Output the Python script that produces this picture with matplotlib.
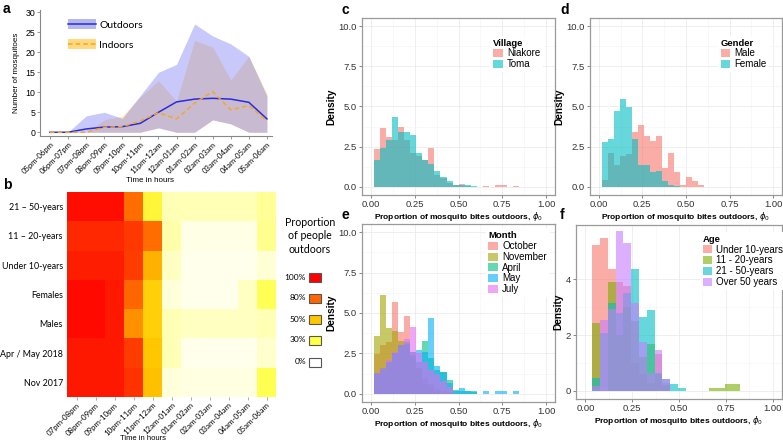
import matplotlib
matplotlib.use("Agg")
import matplotlib.pyplot as plt
import numpy as np
from matplotlib.colors import LinearSegmentedColormap
from matplotlib.patches import Patch, Rectangle
from matplotlib.lines import Line2D

W, H = 783, 443

# ---------------- Panel a data ----------------
hours_a = ["05pm-06pm", "06pm-07pm", "07pm-08pm", "08pm-09pm", "09pm-10pm",
           "10pm-11pm", "11pm-12am", "12am-01am", "01am-02am", "02am-03am",
           "03am-04am", "04am-05am", "05am-06am"]
out_mean = [0, 0, 0.83, 1.3, 1.4, 2.25, 5.0, 7.6, 8.3, 8.5, 8.3, 7.5, 3.35]
out_low = [0, 0, 0, 0, 0, 0, 1.1, 0, 0, 3.1, 2.1, 0, 0]
out_high = [0, 0, 4.1, 5.0, 3.5, 9.2, 15.0, 17.0, 27.1, 24.1, 22.1, 19.0, 9.1]
in_mean = [0, 0, 0, 1.25, 1.4, 2.85, 4.9, 3.35, 7.3, 10.2, 5.6, 6.7, 2.85]
in_low = [0, 0, 0, 0, 0, 0, 1.1, 0, 0, 3.1, 2.1, 0, 0]
in_high = [0, 0, 0, 3.1, 4.1, 8.9, 12.9, 7.8, 23.0, 21.3, 13.1, 19.0, 9.6]

# ---------------- Panel b data ----------------
groups_b = ["21 \u2013 50-years", "11 \u2013 20-years", "Under 10-years", "Females",
            "Males", "Apr / May 2018", "Nov 2017"]
hours_b = ["07pm-08pm", "08pm-09pm", "09pm-10pm", "10pm-11pm", "11pm-12am",
           "12am-01am", "01am-02am", "02am-03am", "03am-04am", "04am-05am", "05am-06am"]
prop_21_50 = [0.97, 0.97, 0.97, 0.78, 0.33, 0.12, 0.12, 0.12, 0.12, 0.12, 0.17]
prop_11_20 = [0.92, 0.92, 0.92, 0.89, 0.78, 0.14, 0.04, 0.04, 0.04, 0.04, 0.18]
prop_under10 = [0.94, 0.94, 0.94, 0.88, 0.57, 0.10, 0.035, 0.035, 0.035, 0.035, 0.07]
prop_females = [0.98, 0.98, 0.95, 0.80, 0.47, 0.06, 0.035, 0.035, 0.035, 0.10, 0.27]
prop_males = [0.98, 0.98, 0.95, 0.67, 0.47, 0.12, 0.10, 0.10, 0.10, 0.10, 0.12]
prop_aprmay = [0.95, 0.95, 0.95, 0.88, 0.50, 0.12, 0.035, 0.035, 0.035, 0.035, 0.08]
prop_nov = [0.95, 0.95, 0.95, 0.90, 0.52, 0.06, 0.05, 0.05, 0.05, 0.05, 0.28]
legend_levels = [1.0, 0.8, 0.5, 0.3, 0.0]
legend_labels = ["100%", "80%", "50%", "30%", "0%"]

# ---------------- Panel c data (density histograms) ----------------
c_start, c_width = 0.019, 0.0344
niakore = [2.37, 3.65, 3.13, 2.9, 3.7, 2.9, 2.1, 1.9, 1.7, 2.45, 0.75, 0.55, 0.25,
           0.15, 0.2, 0.05, 0, 0, 0.05, 0, 0.1, 0.1, 0, 0.05]
toma = [1.7, 2.45, 2.93, 4.37, 3.4, 3.4, 3.2, 2.1, 1.7, 1.45, 1.0, 0.6, 0.35,
        0.15, 0.15, 0.1, 0.05]

# ---------------- Panel d data ----------------
d_start, d_width = 0.017, 0.0344
male = [0.45, 2.1, 1.35, 1.95, 2.05, 3.4, 3.85, 3.15, 2.85, 3.15, 1.2, 2.1, 0.9,
        0.15, 0.6, 0.35, 0.15]
female = [2.8, 2.95, 4.7, 5.45, 4.95, 2.95, 1.35, 1.35, 0.9, 1.0, 0.4, 0.15, 0.05]

# ---------------- Panel e data ----------------
e_start, e_width = 0.019, 0.0344
october = [2.45, 3.0, 3.2, 5.65, 3.83, 4.8, 2.6, 1.6, 1.0, 0.6, 0.3, 0.2, 0.1]
november = [3.6, 6.1, 4.05, 3.9, 3.3, 3.0, 2.3, 1.6, 0.6, 0.4, 0.2]
april = [1.3, 1.6, 2.0, 2.5, 3.0, 3.2, 2.4, 2.0, 3.3, 2.2, 1.5, 1.35, 0.85, 0.25,
         0.2, 0.2, 0.15]
may = [1.25, 1.5, 2.0, 2.5, 3.0, 3.1, 2.6, 2.7, 2.6, 4.7, 1.75, 1.35, 0.7, 0.2,
       0.35, 0.2, 0.1, 0, 0.2, 0, 0.2, 0.2, 0, 0.15]
july = [1.3, 1.6, 2.1, 2.6, 3.0, 3.4, 4.15, 2.5, 2.0, 1.5, 1.2, 0.8, 0.4]

# ---------------- Panel f data ----------------
f_start, f_width = 0.036, 0.0417
under10 = [5.23, 5.47, 4.39, 3.89, 3.75, 1.0, 0.6, 0.3, 1.33, 0.3]
age_11_20 = [2.44, 0.0, 3.89, 2.0, 3.0, 2.5, 1.2, 1.7, 0.6, 0.2, 0, 0, 0, 0, 0,
             0.12, 0.12, 0.26, 0.26]
age_21_50 = [0.46, 2.08, 3.16, 2.8, 3.5, 4.39, 2.65, 2.91, 0.64, 0.43, 0.24, 0.12]
over50 = [0.18, 2.53, 2.95, 5.73, 5.31, 3.16, 1.76, 0.64, 1.47, 0.43]

# =====================================================================
ARIAL = "Liberation Sans"
CAL = "Lato"

fig = plt.figure(figsize=(W / 100, H / 100), dpi=100)


def px_axes(x0, y0, x1, y1):
    return fig.add_axes([x0 / W, 1 - y1 / H, (x1 - x0) / W, (y1 - y0) / H])


def ftext(x, y, s, **kw):
    fig.text(x / W, 1 - y / H, s, **kw)


# ---------------- Panel a ----------------
OUT_FILL, IN_FILL = "#5a5af0", "#ffc850"
ax = px_axes(40, 10, 272, 136)
xa = np.arange(len(hours_a))
ax.fill_between(xa, in_low, in_high, color=IN_FILL, alpha=0.35, linewidth=0)
ax.fill_between(xa, out_low, out_high, color=OUT_FILL, alpha=0.33, linewidth=0)
ax.plot(xa, out_mean, color="#2a2ae0", lw=1.1)
ax.plot(xa, in_mean, color="#f5a623", lw=1.1, ls=(0, (3, 2)))
ax.set_xlim(-0.55, 12.28)
ax.set_ylim(-0.93, 30.6)
ax.set_yticks([0, 5, 10, 15, 20, 25, 30])
ax.set_xticks(xa)
ax.set_xticklabels(hours_a, rotation=45, ha="right", rotation_mode="anchor",
                   fontsize=5.6, family=CAL)
for lab in ax.get_yticklabels():
    lab.set_fontsize(6.3)
    lab.set_family(ARIAL)
for s in ["top", "right"]:
    ax.spines[s].set_visible(False)
for s in ["left", "bottom"]:
    ax.spines[s].set_color("#888888")
    ax.spines[s].set_linewidth(0.8)
ax.tick_params(length=2, width=0.6, color="#888888", pad=1.5)
ax.set_ylabel("Number of mosquitoes", fontsize=5.8, family=ARIAL, labelpad=4)
ftext(150, 180, "Time in hours", fontsize=5.8, family=ARIAL, ha="center", va="center")
h_out = (Patch(facecolor="#b4b8f2", lw=0), Line2D([], [], color="#2a2ae0", lw=1.1))
h_in = (Patch(facecolor="#ffd880", lw=0), Line2D([], [], color="#f5a623", lw=1.1, ls=(0, (3, 2))))
ax.legend([h_out, h_in], ["Outdoors", "Indoors"], loc="upper left",
          bbox_to_anchor=(0.08, 1.0), frameon=False, handlelength=2.7,
          handleheight=1.1, labelspacing=0.9, prop={"family": CAL, "size": 7.5},
          handletextpad=0.3)
ftext(3, 2, "a", fontsize=10, weight="bold", family=ARIAL, va="top")

# ---------------- Panel b ----------------
cmap = LinearSegmentedColormap.from_list(
    "prop", [(0.0, "#FFFFFF"), (0.3, "#FFFF44"), (0.5, "#FFC800"),
             (0.8, "#FF6600"), (1.0, "#FF0000")])
mat = np.array([prop_21_50, prop_11_20, prop_under10, prop_females,
                prop_males, prop_aprmay, prop_nov])
axb = px_axes(67, 192, 276, 397)
axb.imshow(mat, cmap=cmap, vmin=0, vmax=1, aspect="auto", interpolation="nearest")
axb.set_xticks(np.arange(len(hours_b)))
axb.set_xticklabels(hours_b, rotation=45, ha="right", rotation_mode="anchor",
                    fontsize=5.7, family=CAL)
axb.set_yticks(np.arange(len(groups_b)))
axb.set_yticklabels(groups_b, fontsize=6.4, family=CAL)
axb.tick_params(axis="y", length=0, pad=3)
axb.tick_params(axis="x", length=2, width=0.5, color="#888888", pad=1)
for s in axb.spines.values():
    s.set_visible(False)
ftext(143, 438, "Time in hours", fontsize=5.5, family=ARIAL, ha="center", va="center")
ftext(3, 178, "b", fontsize=10, weight="bold", family=ARIAL, va="top")

# legend for b
ftext(310, 236, "Proportion\nof people\noutdoors", fontsize=7.6, family=CAL,
      ha="center", va="center", linespacing=1.25)
ys = [277, 298, 319, 340, 362]
for lv, lb, yy in zip(legend_levels, legend_labels, ys):
    r = Rectangle((309 / W, 1 - (yy + 4.5) / H), 12 / W, 9 / H,
                  transform=fig.transFigure, facecolor=cmap(lv),
                  edgecolor="#555555", lw=0.8)
    fig.patches.append(r)
    ftext(306, yy, lb, fontsize=6, family=CAL, ha="right", va="center")


# ---------------- ggplot-style histogram panels ----------------
def gg_axes(x0, y0, x1, y1, ylim, yticks, yticklabels):
    a = px_axes(x0, y0, x1, y1)
    a.set_xlim(-0.05, 1.05)
    a.set_ylim(*ylim)
    a.set_xticks([0, 0.25, 0.5, 0.75, 1.0])
    a.set_xticklabels(["0.00", "0.25", "0.50", "0.75", "1.00"])
    a.set_xticks([0.125, 0.375, 0.625, 0.875], minor=True)
    a.set_yticks(yticks)
    a.set_yticklabels(yticklabels)
    ymin = [(yticks[i] + yticks[i + 1]) / 2 for i in range(len(yticks) - 1)]
    a.set_yticks(ymin, minor=True)
    a.grid(True, which="major", color="#EBEBEB", lw=0.6)
    a.grid(True, which="minor", color="#F4F4F4", lw=0.4)
    a.set_axisbelow(True)
    for s in a.spines.values():
        s.set_color("#9A9A9A")
        s.set_linewidth(0.9)
    a.tick_params(which="major", length=2, width=0.5, color="#555555",
                  labelsize=6.8, labelcolor="#333333", pad=1.5)
    a.tick_params(which="minor", length=0)
    for lab in a.get_xticklabels() + a.get_yticklabels():
        lab.set_family(ARIAL)
    a.set_ylabel("Density", fontsize=7.3, weight="bold", family=ARIAL, labelpad=2)
    a.set_xlabel(r"Proportion of mosquito bites outdoors, $\phi_0$",
                 fontsize=6.0, weight="bold", family=ARIAL, labelpad=1)
    return a


def draw_hist(a, start, width, vals, color, label):
    edges = start + width * np.arange(len(vals))
    a.bar(edges, vals, width=width, align="edge", color=color, alpha=0.6,
          linewidth=0, label=label)


def gg_legend(a, title, anchor):
    lg = a.legend(loc="upper left", bbox_to_anchor=anchor, title=title,
                  frameon=True, facecolor="white", edgecolor="none", framealpha=1,
                  handlelength=1.0, handleheight=0.9, labelspacing=0.08,
                  handletextpad=0.4, borderpad=0.3, borderaxespad=0,
                  prop={"family": ARIAL, "size": 7},
                  title_fontproperties={"family": ARIAL, "size": 6.8, "weight": "bold"},
                  alignment="left")
    return lg


yt = [0, 2.5, 5, 7.5, 10]
ytl = ["0.0", "2.5", "5.0", "7.5", "10.0"]

axc = gg_axes(362, 18, 555, 195, (-0.5, 10.5), yt, ytl)
draw_hist(axc, c_start, c_width, niakore, "#F8766D", "Niakore")
draw_hist(axc, c_start, c_width, toma, "#00BFC4", "Toma")
gg_legend(axc, "Village", (0.665, 0.9))
ftext(341, 3, "c", fontsize=10, weight="bold", family=ARIAL, va="top")

axd = gg_axes(590, 18, 782, 195, (-0.5, 10.5), yt, ytl)
draw_hist(axd, d_start, d_width, male, "#F8766D", "Male")
draw_hist(axd, d_start, d_width, female, "#00BFC4", "Female")
gg_legend(axd, "Gender", (0.665, 0.9))
ftext(560, 3, "d", fontsize=10, weight="bold", family=ARIAL, va="top")

axe = gg_axes(362, 224, 555, 402, (-0.5, 10.5), yt, ytl)
for vals, col, lb in [(october, "#F8766D", "October"), (november, "#A3A500", "November"),
                      (april, "#00BF7D", "April"), (may, "#00B0F6", "May"),
                      (july, "#E76BF3", "July")]:
    draw_hist(axe, e_start, e_width, vals, col, lb)
gg_legend(axe, "Month", (0.64, 0.975))
ftext(342, 208, "e", fontsize=10, weight="bold", family=ARIAL, va="top")

axf = gg_axes(576, 225, 782, 399, (-0.29, 5.95), [0, 2, 4], ["0", "2", "4"])
for vals, col, lb in [(under10, "#F8766D", "Under 10-years"), (age_11_20, "#7CAE00", "11 - 20-years"),
                      (age_21_50, "#00BFC4", "21 - 50-years"), (over50, "#C77CFF", "Over 50 years")]:
    draw_hist(axf, f_start, f_width, vals, col, lb)
gg_legend(axf, "Age", (0.6, 0.96))
ftext(560, 208, "f", fontsize=10, weight="bold", family=ARIAL, va="top")

fig.savefig("out.png", dpi=100)
